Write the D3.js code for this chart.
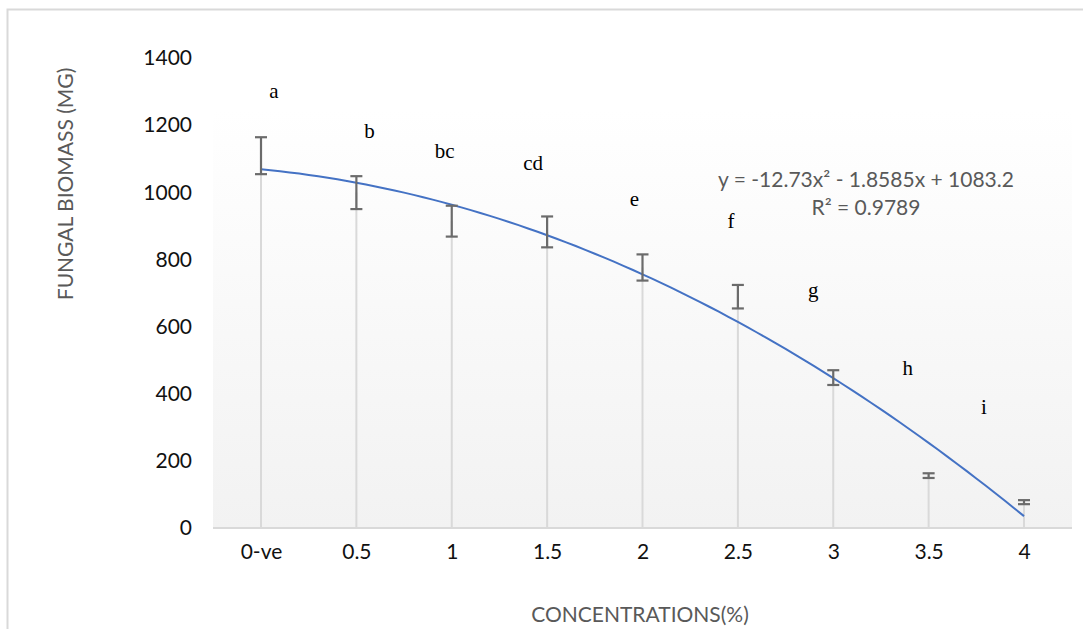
<!DOCTYPE html>
<html>
<head>
<meta charset="utf-8">
<script src="https://cdn.jsdelivr.net/npm/d3@7"></script>
<style>
  body { margin: 0; background: #fff; }
  svg { display: block; }
</style>
</head>
<body>
<div id="chart"></div>
<script>
// Data.
const categories = ['0-ve', '0.5', '1', '1.5', '2', '2.5', '3', '3.5', '4'];
const biomass = [1109, 999, 914, 882, 776, 689, 448, 156, 77];
const stdErr = [55, 49, 46, 46, 39, 35, 22, 7, 6];
const letters = ['a', 'b', 'bc', 'cd', 'e', 'f', 'g', 'h', 'i'];
const letterValues = [1281, 1162, 1102, 1066, 959, 894, 688, 456, 340];
const yTicks = [0, 200, 400, 600, 800, 1000, 1200, 1400];
// Polynomial trendline shown on the chart: y = a*x^2 + b*x + c (x = 1..9).
const trendCoef = [-12.73, -1.8585, 1083.2];
const trendLabel = ['y = -12.73x² - 1.8585x + 1083.2', 'R² = 0.9789'];

// Layout.
const W = 1083, H = 629;
const plot = {left: 261, right: 1024, top: 58, bottom: 528};
const letterDx = [13, 13, -7, -14, -8, -7, -20, -21, -40];

const svg = d3.select('#chart').append('svg')
    .attr('width', W)
    .attr('height', H);

// Outer frame.
svg.append('rect')
    .attr('x', 7.5).attr('y', 9.5)
    .attr('width', W).attr('height', H)
    .attr('fill', 'none')
    .attr('stroke', '#d9d9d9')
    .attr('stroke-width', 2);

// Plot area gradient.
const grad = svg.append('defs').append('linearGradient')
    .attr('id', 'bg')
    .attr('x1', 0).attr('y1', 0).attr('x2', 0).attr('y2', 1);
grad.append('stop').attr('offset', '0%').attr('stop-color', '#ffffff');
grad.append('stop').attr('offset', '100%').attr('stop-color', '#f2f2f2');
svg.append('rect')
    .attr('x', 213).attr('y', 110)
    .attr('width', 1072 - 213).attr('height', plot.bottom - 110)
    .attr('fill', 'url(#bg)');

// Scales.
const x = d3.scalePoint()
    .domain(categories)
    .range([plot.left, plot.right]);
const xTrend = d3.scaleLinear()
    .domain([1, categories.length])
    .range([plot.left, plot.right]);
const y = d3.scaleLinear()
    .domain([0, 1400])
    .range([plot.bottom, plot.top]);

const data = categories.map((c, i) => ({cat: c, value: biomass[i], err: stdErr[i], letter: letters[i], lv: letterValues[i], dx: letterDx[i]}));

// Thin bars.
svg.append('g')
  .selectAll('line')
  .data(data)
  .enter()
  .append('line')
    .attr('x1', d => x(d.cat))
    .attr('x2', d => x(d.cat))
    .attr('y1', y(0))
    .attr('y2', d => y(d.value))
    .attr('stroke', '#d9d9d9')
    .attr('stroke-width', 2);

// X axis.
const xAxis = svg.append('g')
    .attr('transform', `translate(0, ${plot.bottom})`)
    .call(d3.axisBottom(x).tickSize(0).tickPadding(16));
xAxis.select('.domain').remove();
xAxis.append('line')
    .attr('x1', 213).attr('x2', 1072)
    .attr('stroke', '#d9d9d9')
    .attr('stroke-width', 2);
xAxis.selectAll('text')
    .style('font-family', 'Lato, sans-serif')
    .style('font-size', '21px')
    .attr('fill', '#111');

// Y axis.
const yAxis = svg.append('g')
    .attr('transform', 'translate(192, 0)')
    .call(d3.axisLeft(y).tickValues(yTicks).tickFormat(d3.format('d')).tickSize(0).tickPadding(0));
yAxis.select('.domain').remove();
yAxis.selectAll('text')
    .style('font-family', 'Lato, sans-serif')
    .style('font-size', '21px')
    .attr('fill', '#111');

// Trendline.
const trendPts = d3.range(1, categories.length + 0.001, 0.1);
svg.append('path')
    .datum(trendPts)
    .attr('fill', 'none')
    .attr('stroke', '#4472c4')
    .attr('stroke-width', 2)
    .attr('d', d3.line()
        .x(t => xTrend(t))
        .y(t => y(trendCoef[0] * t * t + trendCoef[1] * t + trendCoef[2]))
        .curve(d3.curveMonotoneX)
    );

// Error bars.
const eb = svg.append('g')
    .attr('stroke', '#6b6b6b')
    .attr('stroke-width', 2.2);
eb.selectAll('.stem')
  .data(data)
  .enter()
  .append('line')
    .attr('x1', d => x(d.cat)).attr('x2', d => x(d.cat))
    .attr('y1', d => y(d.value - d.err))
    .attr('y2', d => y(d.value + d.err));
[-1, 1].forEach(s => {
    eb.selectAll(null)
      .data(data)
      .enter()
      .append('line')
        .attr('x1', d => x(d.cat) - 6).attr('x2', d => x(d.cat) + 6)
        .attr('y1', d => y(d.value + s * d.err))
        .attr('y2', d => y(d.value + s * d.err));
});

// Significance letters.
svg.append('g')
  .selectAll('text')
  .data(data)
  .enter()
  .append('text')
    .attr('x', d => x(d.cat) + d.dx)
    .attr('y', d => y(d.lv))
    .attr('text-anchor', 'middle')
    .style('font-family', '"Liberation Serif", "Times New Roman", serif')
    .style('font-size', '21px')
    .attr('fill', '#000')
    .text(d => d.letter);

// Trendline label.
svg.append('g')
  .selectAll('text')
  .data(trendLabel)
  .enter()
  .append('text')
    .attr('x', 866)
    .attr('y', (d, i) => 187 + i * 28)
    .attr('text-anchor', 'middle')
    .style('font-family', 'Lato, sans-serif')
    .style('font-size', '21px')
    .attr('fill', '#595959')
    .text(d => d);

// Axis titles.
svg.append('text')
    .attr('transform', 'translate(73, 184) rotate(-90)')
    .attr('text-anchor', 'middle')
    .style('font-family', 'Lato, sans-serif')
    .style('font-size', '21px')
    .attr('fill', '#595959')
    .text('FUNGAL BIOMASS (MG)');
svg.append('text')
    .attr('x', 640)
    .attr('y', 622)
    .attr('text-anchor', 'middle')
    .style('font-family', 'Lato, sans-serif')
    .style('font-size', '21px')
    .attr('fill', '#595959')
    .text('CONCENTRATIONS(%)');
</script>
</body>
</html>
